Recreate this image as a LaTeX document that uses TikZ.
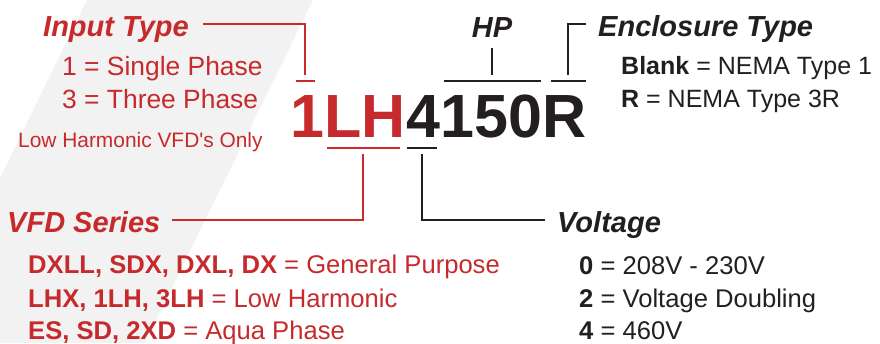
\documentclass[tikz,border=0pt]{standalone}
\usepackage{fontspec}
\setmainfont{Liberation Sans}
\definecolor{vred}{HTML}{C62A2C}
\definecolor{vblk}{HTML}{231F20}
\definecolor{vgray}{HTML}{F2F2F2}
\begin{document}
\begin{tikzpicture}[x=1pt,y=-1pt,
  txt/.style={inner sep=0pt, anchor=base west},
  head/.style={txt, font=\fontsize{29}{29}\selectfont\bfseries\itshape},
  item/.style={txt, font=\fontsize{25.6}{25.6}\selectfont},
  code/.style={txt, font=\fontsize{61}{61}\selectfont\bfseries},
  redline/.style={draw=vred, line width=1.8pt},
  blkline/.style={draw=vblk, line width=1.8pt}]
\useasboundingbox (0,0) rectangle (880,343);
\fill[vgray] (87,0) -- (313,0) -- (145,343) -- (0,343) -- (0,178) -- cycle;

% model code
\node[code, text=vred] (c1) at (290,137) {1};
\node[code, text=vred] (cLH) at (c1.base east) {LH};
\node[code, text=vblk] (c4) at (cLH.base east) {4};
\node[code, text=vblk] (c150) at (c4.base east) {150};
\node[code, text=vblk] (cR) at (c150.base east) {R};

% headings
\node[head, text=vred] (input) at (43,36) {Input Type};
\node[head, text=vblk, anchor=base] (hp) at (492,37) {HP};
\node[head, text=vblk] (encl) at (598,36) {Enclosure Type};
\node[head, text=vred] (series) at (7,232) {VFD Series};
\node[head, text=vblk] (volt) at (557,232) {Voltage};

% input type items
\node[item, text=vred, font=\fontsize{26.4}{26.4}\selectfont] (in1) at (62,75) {1 = Single Phase};
\node[item, text=vred, font=\fontsize{26.4}{26.4}\selectfont] (in3) at (62,108) {3 = Three Phase};
\node[txt, text=vred, font=\fontsize{20.9}{20.9}\selectfont] (inlh) at (18,147) {Low Harmonic VFD\textquotesingle s Only};

% enclosure items
\node[item, text=vblk, font=\fontsize{25}{25}\selectfont] (e1) at (621,74) {\textbf{Blank} = NEMA Type 1};
\node[item, text=vblk, font=\fontsize{25}{25}\selectfont] (e2) at (621,107) {\textbf{R} = NEMA Type 3R};

% series items
\node[item, text=vred] (s1) at (28,273) {\textbf{DXLL, SDX, DXL, DX} = General Purpose};
\node[item, text=vred] (s2) at (28,307) {\textbf{LHX, 1LH, 3LH} = Low Harmonic};
\node[item, text=vred] (s3) at (28,339) {\textbf{ES, SD, 2XD} = Aqua Phase};

% voltage items
\node[item, text=vblk] (v0) at (579,274) {\textbf{0} = 208V - 230V};
\node[item, text=vblk] (v2) at (579,307) {\textbf{2} = Voltage Doubling};
\node[item, text=vblk] (v4) at (579,339) {\textbf{4} = 460V};

% connector end points
\coordinate (inS) at (203,24);
\coordinate (inE) at (305,75);
\coordinate (hpS) at (492,48);
\coordinate (hpE) at (492,75);
\coordinate (enS) at (586,24);
\coordinate (enE) at (568,75);
\coordinate (seS) at (172,220);
\coordinate (seE) at (363,154);
\coordinate (voS) at (422,154);
\coordinate (voE) at (545,220);

% bars
\draw[redline] (296,81) -- (315,81);
\draw[blkline] (444,81) -- (541,81);
\draw[blkline] (551,81) -- (586,81);
\draw[redline] (327,148) -- (400,148);
\draw[blkline] (407,148) -- (437,148);

% connectors
\draw[redline] (inS) -| (inE);
\draw[blkline] (hpS) -- (hpE);
\draw[blkline] (enS) -| (enE);
\draw[redline] (seS) -| (seE);
\draw[blkline] (voS) |- (voE);
\end{tikzpicture}
\end{document}
